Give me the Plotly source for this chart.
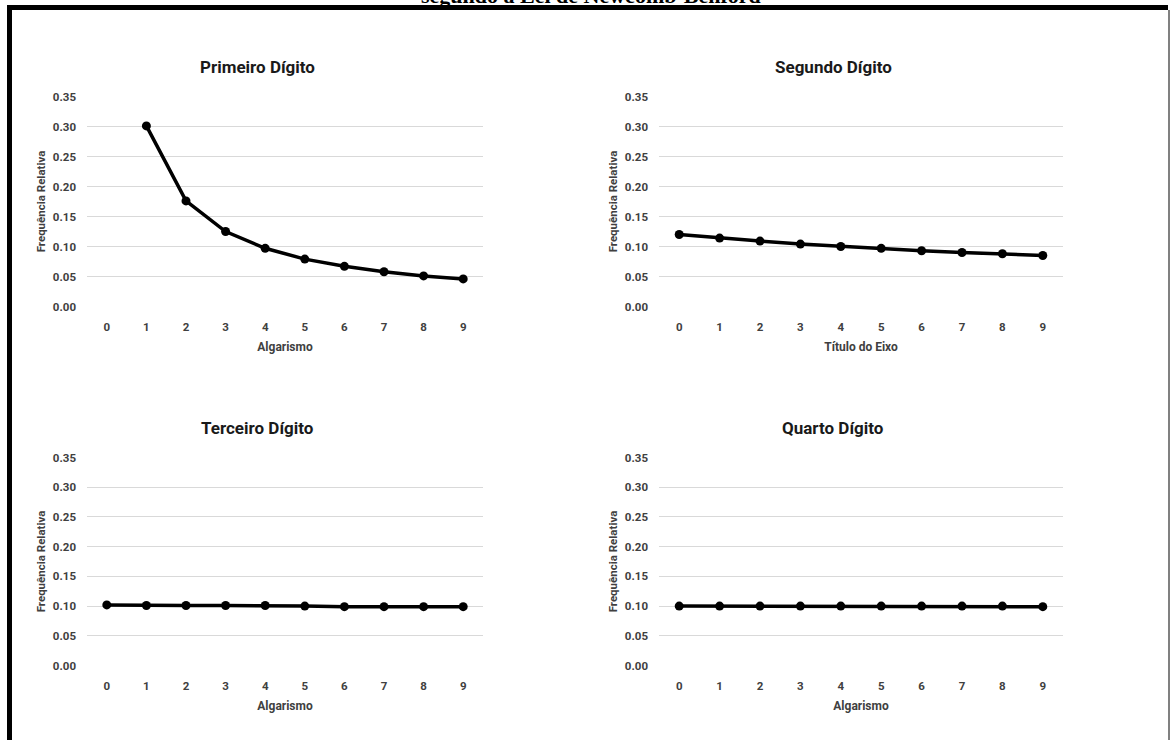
import plotly.graph_objects as go

W, H = 1171, 740

digits_first = [1, 2, 3, 4, 5, 6, 7, 8, 9]
digits_other = [0, 1, 2, 3, 4, 5, 6, 7, 8, 9]
freq_first = [0.301, 0.176, 0.125, 0.097, 0.079, 0.067, 0.058, 0.051, 0.046]
freq_second = [0.120, 0.114, 0.109, 0.104, 0.100, 0.097, 0.093, 0.090, 0.088, 0.085]
freq_third = [0.102, 0.101, 0.101, 0.101, 0.101, 0.100, 0.099, 0.099, 0.099, 0.099]
freq_fourth = [0.100, 0.100, 0.100, 0.100, 0.100, 0.100, 0.100, 0.100, 0.100, 0.099]
tick_labels = ["0", "1", "2", "3", "4", "5", "6", "7", "8", "9"]
y_ticks = [0.00, 0.05, 0.10, 0.15, 0.20, 0.25, 0.30, 0.35]

panel_titles = ["Primeiro Dígito", "Segundo Dígito", "Terceiro Dígito", "Quarto Dígito"]
x_titles = ["Algarismo", "Título do Eixo", "Algarismo", "Algarismo"]
y_title = "Frequência Relativa"
main_title = "segundo a Lei de Newcomb-Benford"

series = [
    (digits_first, freq_first),
    (digits_other, freq_second),
    (digits_other, freq_third),
    (digits_other, freq_fourth),
]

FONT = "Roboto, Liberation Sans Narrow, sans-serif"

# pixel geometry of plot areas (left, right, top, bottom)
boxes = [
    (87, 483, 96, 307),
    (659, 1063, 96, 307),
    (87, 483, 457, 666),
    (659, 1063, 457, 666),
]

fig = go.Figure()
layout = {}
annotations = []
for i, ((xs, ys), (l, r, t, b)) in enumerate(zip(series, boxes)):
    n = "" if i == 0 else str(i + 1)
    xa, ya = "x" + n, "y" + n
    fig.add_trace(go.Scatter(
        x=xs, y=ys, mode="lines+markers", xaxis=xa, yaxis=ya,
        line=dict(color="black", width=3.5),
        marker=dict(color="black", size=9),
        showlegend=False, hoverinfo="skip",
    ))
    layout["xaxis" + n] = dict(
        domain=[l / W, r / W], anchor=ya, range=[-0.5, 9.5], automargin=False,
        tickmode="array", tickvals=digits_other, ticktext=tick_labels,
        showgrid=False, zeroline=False, showline=False, ticks="", ticklabelstandoff=11,
        tickfont=dict(family=FONT, size=11.5, color="#404040", weight="bold"),
        title=dict(text=x_titles[i], font=dict(family=FONT, size=12, color="#404040", weight="bold"), standoff=10),
    )
    layout["yaxis" + n] = dict(
        domain=[1 - b / H, 1 - t / H], anchor=xa, range=[-0.0008, 0.3508], automargin=False,
        tickmode="array", tickvals=y_ticks, tickformat=".2f",
        showgrid=True, gridcolor="#d9d9d9", gridwidth=1.2,
        zeroline=False, showline=False, ticks="", ticklabelstandoff=10,
        tickfont=dict(family=FONT, size=11.5, color="#404040", weight="bold"),
        title=dict(text=y_title, font=dict(family=FONT, size=11.5, color="#404040", weight="bold"), standoff=4),
    )
    annotations.append(dict(
        text=panel_titles[i], xref="paper", yref="paper",
        x=((l + r) / 2 - 28) / W, y=1 - (t - 29) / H, xanchor="center", yanchor="middle",
        showarrow=False, font=dict(family=FONT, size=17, color="#1a1a1a", weight="bold"),
    ))

annotations.append(dict(
    text=main_title, xref="paper", yref="paper", x=591 / W, y=1 - 10 / H,
    xanchor="center", yanchor="bottom", showarrow=False,
    font=dict(family="Liberation Serif, Times New Roman, serif", size=22, color="black", weight="bold"),
))

shapes = [
    dict(type="line", xref="paper", yref="paper", x0=9.5 / W, x1=9.5 / W, y0=-0.05, y1=1 - 5 / H,
         line=dict(color="black", width=5)),
    dict(type="line", xref="paper", yref="paper", x0=7 / W, x1=1168 / W, y0=1 - 7.5 / H, y1=1 - 7.5 / H,
         line=dict(color="black", width=5)),
    dict(type="line", xref="paper", yref="paper", x0=1169 / W, x1=1169 / W, y0=-0.05, y1=1 - 10 / H,
         line=dict(color="#808080", width=2)),
]

fig.update_layout(
    width=W, height=H, margin=dict(l=0, r=0, t=0, b=0, pad=0), autosize=False,
    paper_bgcolor="white", plot_bgcolor="white",
    annotations=annotations, shapes=shapes, **layout,
)

fig.write_html(
    "out.html",
    config={"displayModeBar": False},
    post_script="document.body.style.margin='0';document.body.style.overflow='hidden';",
)
